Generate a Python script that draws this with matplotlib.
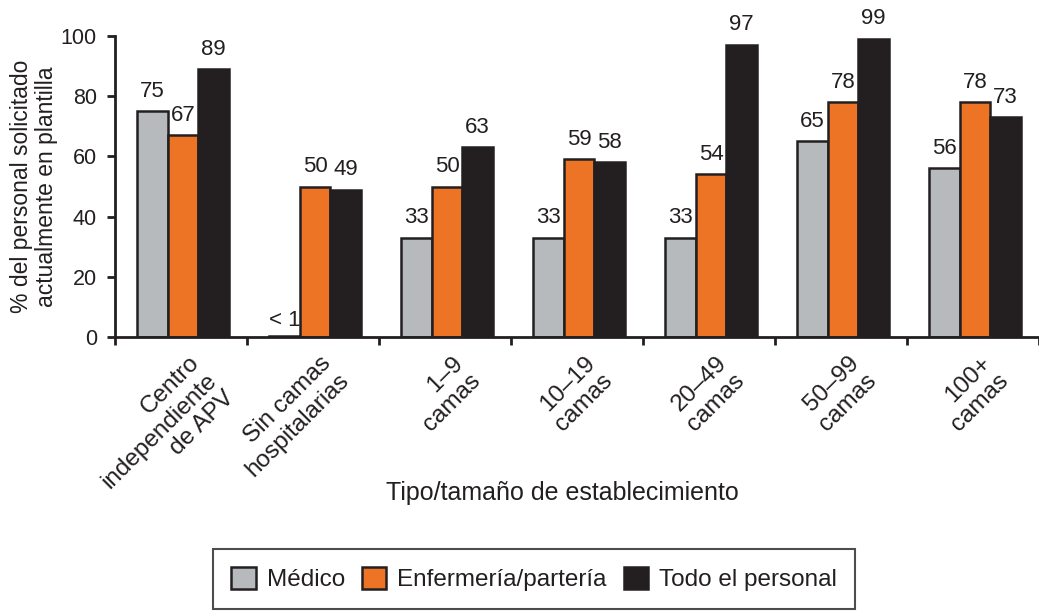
import matplotlib

matplotlib.use("Agg")
import matplotlib.pyplot as plt
import matplotlib.transforms as mtransforms
import numpy as np

plt.rcParams["font.family"] = ["Liberation Sans", "DejaVu Sans"]

# data
categories = [
    "Centro\nindependiente\nde APV",
    "Sin camas\nhospitalarias",
    "1\u20139\ncamas",
    "10\u201319\ncamas",
    "20\u201349\ncamas",
    "50\u201399\ncamas",
    "100+\ncamas",
]
medico = [75, 0.3, 33, 33, 33, 65, 56]
enfermeria = [67, 50, 50, 59, 54, 78, 78]
todo = [89, 49, 63, 58, 97, 99, 73]
medico_labels = ["75", "< 1", "33", "33", "33", "65", "56"]
series_names = ["Médico", "Enfermería/partería", "Todo el personal"]

ink = "#231f20"
colors = ["#b7babd", "#ec7424", ink]

fig = plt.figure(figsize=[10.39, 6.13], dpi=100)
ax = fig.add_axes([115 / 1039, 1 - 337 / 613, 924 / 1039, 301 / 613])

x = np.arange(len(categories)) + 0.015
w = 0.232
all_vals = [medico, enfermeria, todo]
for k, (vals, col, name) in enumerate(zip(all_vals, colors, series_names)):
    bars = ax.bar(
        x + (k - 1) * w,
        vals,
        width=w,
        color=col,
        edgecolor=ink,
        linewidth=1.8,
        label=name,
        zorder=2,
    )
    # value labels
    if k == 0:
        labs = medico_labels
    else:
        labs = [str(v) for v in vals]
    for b, v, lab in zip(bars, vals, labs):
        off = 10.5 if v >= 1 else 7
        ax.annotate(
            lab,
            (b.get_x() + b.get_width() / 2, b.get_height()),
            xytext=(0, off),
            textcoords="offset points",
            ha="center",
            va="baseline",
            fontsize=16,
            color=ink,
        )

ax.set_ylim(0, 100)
ax.set_xlim(-0.5, -0.5 + 924 / 132.7)
ax.set_yticks([0, 20, 40, 60, 80, 100])
ax.set_xticks(np.arange(len(categories) + 1) - 0.5)
ax.set_xticklabels([])
ax.tick_params(
    axis="both", direction="out", length=6, width=2, color=ink,
    labelsize=15.5, labelcolor=ink,
)
ax.tick_params(axis="y", pad=7)

for s in ["top", "right"]:
    ax.spines[s].set_visible(False)
for s in ["left", "bottom"]:
    ax.spines[s].set_linewidth(2)
    ax.spines[s].set_color(ink)
ax.spines["bottom"].set_zorder(3)

# rotated category labels
trans = ax.get_xaxis_transform() + mtransforms.ScaledTranslation(
    7 / 100, -15 / 100, fig.dpi_scale_trans
)
for i, lab in enumerate(categories):
    ax.text(
        i, 0, lab, transform=trans, rotation=45, ha="right", va="top",
        rotation_mode="anchor", multialignment="right", fontsize=17.5,
        color=ink, linespacing=1.15,
    )

ax.set_ylabel(
    "% del personal solicitado\nactualmente en plantilla",
    fontsize=16.5, color=ink, labelpad=2, linespacing=1.1,
)
fig.text(
    562 / 1039, 1 - 493 / 613, "Tipo/tamaño de establecimiento",
    ha="center", va="center", fontsize=18, color=ink,
)

leg = fig.legend(
    loc="center",
    bbox_to_anchor=(534 / 1039, 1 - 579 / 613),
    ncol=3,
    fontsize=17.5,
    frameon=True,
    fancybox=False,
    edgecolor=ink,
    handlelength=1.0,
    handleheight=1.0,
    handletextpad=0.45,
    columnspacing=0.7,
    borderpad=0.75,
    labelcolor=ink,
)
leg.get_frame().set_linewidth(1.5)

fig.savefig("out.png", dpi=100)
